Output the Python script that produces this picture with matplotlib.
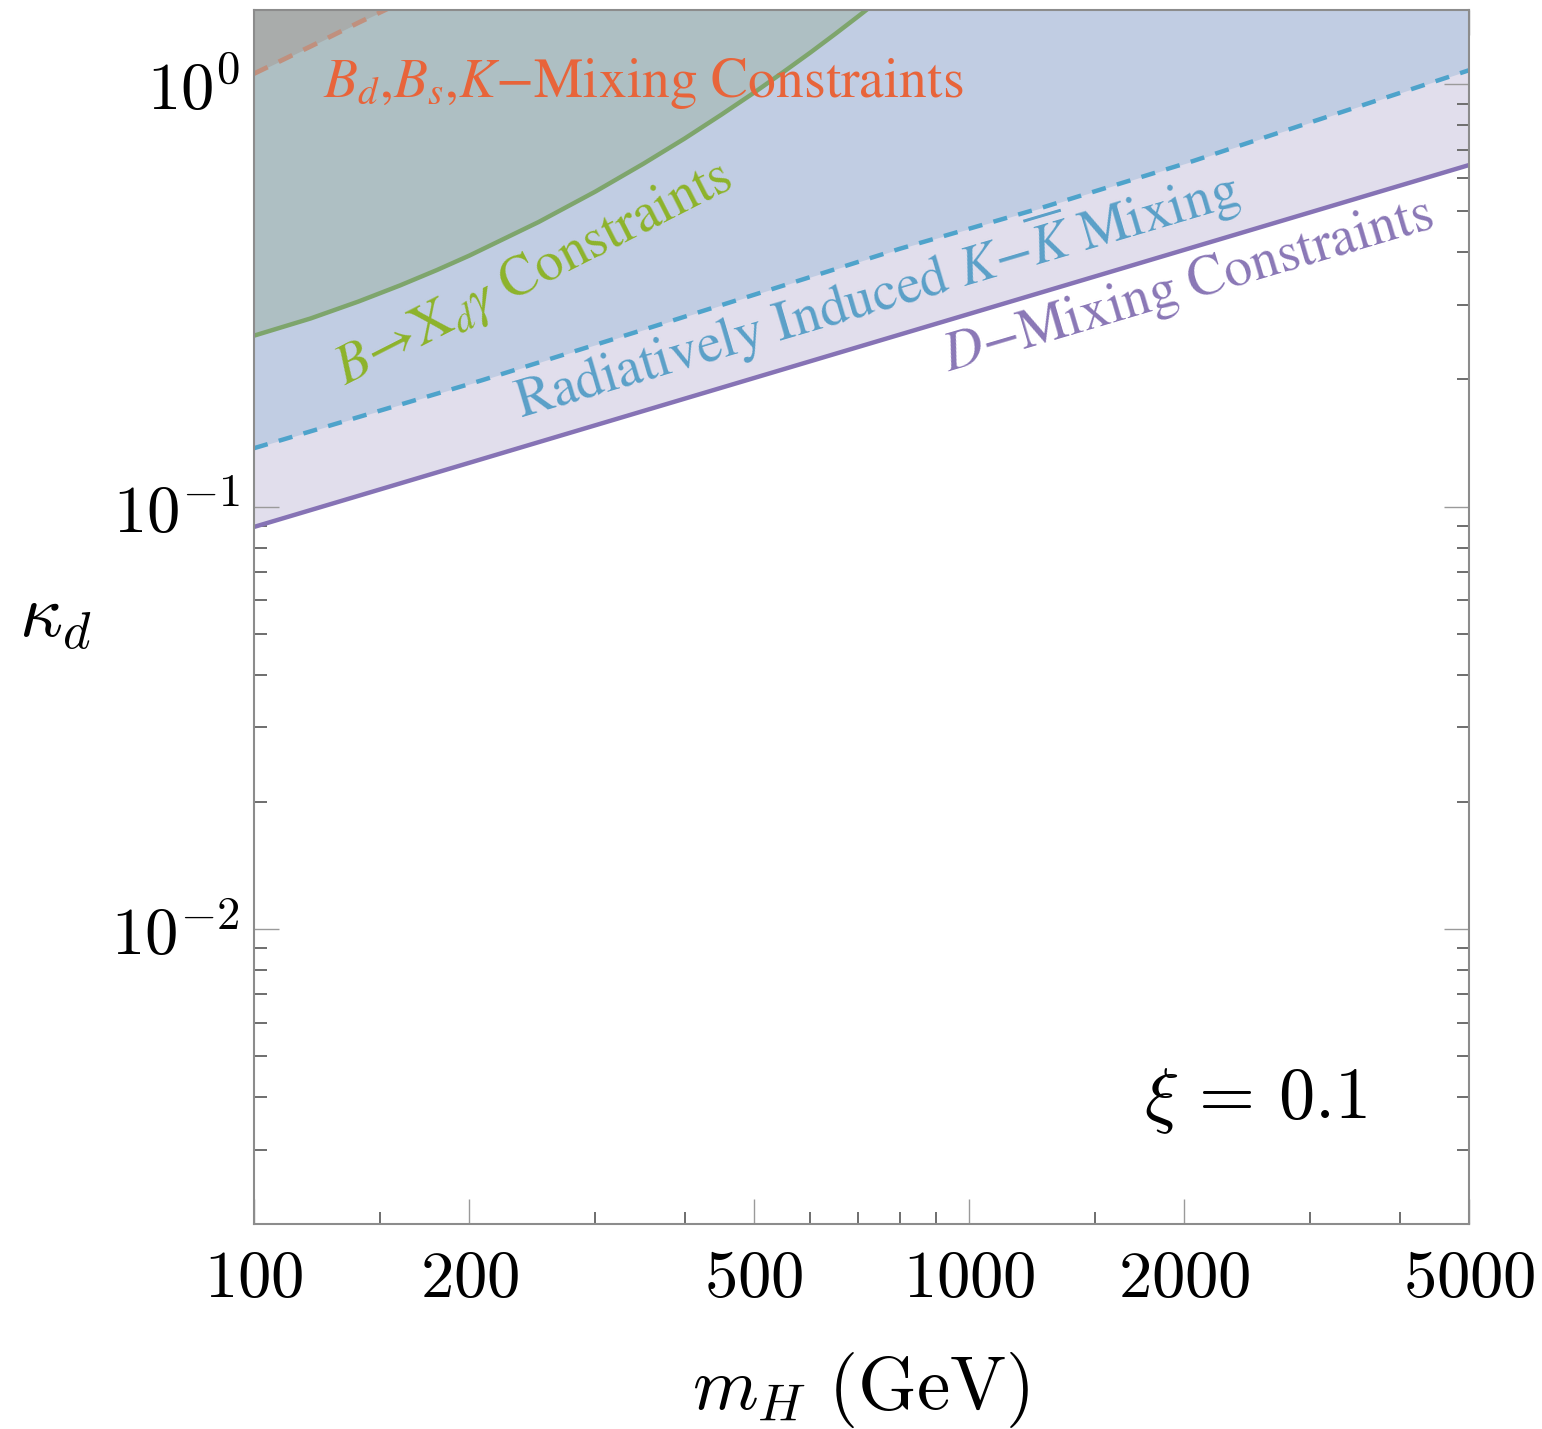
import matplotlib
matplotlib.use("Agg")
import matplotlib.pyplot as plt
from matplotlib.ticker import FixedLocator, FixedFormatter, NullFormatter

plt.rcParams['mathtext.fontset'] = 'cm'

# values (m_H in GeV, kappa_d)
m_dmix = [100, 5000]
k_dmix = [0.0895, 0.644]

m_kk = [100, 208, 347, 800, 1257, 2055, 2722, 5000]
k_kk = [0.1375, 0.199, 0.261, 0.408, 0.509, 0.658, 0.770, 1.08]

m_bsg = [100, 120, 140, 160, 180, 200, 250, 300, 350, 400, 450,
         500, 550, 600, 650, 700, 750]
k_bsg = [0.254, 0.279, 0.306, 0.334, 0.363, 0.393, 0.472, 0.557, 0.648,
         0.744, 0.847, 0.955, 1.07, 1.19, 1.317, 1.45, 1.589]

m_bmix = [100, 120, 140, 155]
k_bmix = [1.06, 1.23, 1.40, 1.52]

x_major = [100, 200, 500, 1000, 2000, 5000]
x_minor = [150, 300, 400, 600, 700, 800, 900, 1500, 3000, 4000]
y_major = [0.01, 0.1, 1.0]
y_major_labels = [r'$10^{-2}$', r'$10^{-1}$', r'$10^{0}$']

fig = plt.figure(figsize=(15.42, 14.29), dpi=100)
ax = fig.add_axes([254 / 1542, 1 - 1224 / 1429, 1215 / 1542, 1214 / 1429])
ax.set_xscale('log')
ax.set_yscale('log')
ax.set_xlim(100, 5000)
ax.set_ylim(0.002, 1.5)

top = 10
# shaded exclusion regions, lowest first
ax.fill_between(m_dmix, k_dmix, top, color='#e1deec', lw=0, zorder=1)
ax.fill_between(m_kk, k_kk, top, color='#c1cde3', lw=0, zorder=2)
ax.fill_between(m_bsg, k_bsg, top, color='#aebfc3', lw=0, zorder=3)
ax.fill_between(m_bmix, k_bmix, top, color='#a9acab', lw=0, zorder=4)

ax.plot(m_dmix, k_dmix, color='#8673b5', lw=3.2, zorder=5)
ax.plot(m_kk, k_kk, color='#4ea3cb', lw=3.2, dashes=(3.2, 2.6), zorder=5)
ax.plot(m_bsg, k_bsg, color='#7ea56c', lw=3.2, zorder=5)
ax.plot(m_bmix, k_bmix, color='#c0907e', lw=3.4, dashes=(3.2, 2.6), zorder=5)

lab = dict(family='STIXGeneral', math_fontfamily='stix', fontsize=40,
           ha='left', va='baseline', rotation_mode='anchor', zorder=6)
ax.text(125, 0.932, '$B_d$,$B_s$,$K$\u2212Mixing Constraints',
        color='#e8643a', **lab)
ax.text(134, 0.194, '$B$\u2192X$_d\\gamma$ Constraints',
        color='#8db32a', rotation=27, **lab)
ax.text(236, 0.162, 'Radiatively Induced $K$\u2212$\\overline{K}$ Mixing',
        color='#5aa0c8', rotation=16.5, **lab)
ax.text(934, 0.2085, '$D$\u2212Mixing Constraints',
        color='#8a77b6', rotation=16.5, **lab)

ax.text(0.824, 0.087, r'$\xi\, =\, 0.1$', transform=ax.transAxes,
        fontsize=52, ha='center', va='baseline', zorder=6)

ax.xaxis.set_major_locator(FixedLocator(x_major))
ax.xaxis.set_major_formatter(FixedFormatter(['$%d$' % v for v in x_major]))
ax.xaxis.set_minor_locator(FixedLocator(x_minor))
ax.xaxis.set_minor_formatter(NullFormatter())

y_minor = [d * e for e in (0.001, 0.01, 0.1) for d in range(2, 10)]
ax.yaxis.set_major_locator(FixedLocator(y_major))
ax.yaxis.set_major_formatter(FixedFormatter(y_major_labels))
ax.yaxis.set_minor_locator(FixedLocator(y_minor))
ax.yaxis.set_minor_formatter(NullFormatter())

ax.tick_params(which='both', direction='in', top=True, right=True)
ax.tick_params(which='major', length=18, width=1.0, color='#9a9a9a',
               labelsize=48)
ax.tick_params(which='minor', length=9, width=1.4, color='#6e6e6e')
ax.tick_params(axis='x', which='major', pad=15)
ax.tick_params(axis='y', which='major', pad=10)

for s in ax.spines.values():
    s.set_color('#8c8c8c')
    s.set_linewidth(1.5)
    s.set_zorder(7)

ax.set_xlabel(r'$m_H\ (\mathrm{GeV})$', fontsize=54)
ax.xaxis.set_label_coords(0.499, -0.137)
ax.xaxis.label.set_va('center')
ax.set_ylabel(r'$\kappa_d$', fontsize=54, rotation=0, va='center', ha='center')
ax.yaxis.set_label_coords(-0.164, 0.5)

fig.savefig('out.png', dpi=100)
